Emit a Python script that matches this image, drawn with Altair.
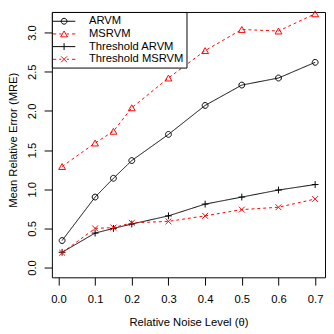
import altair as alt
import pandas as pd

# ---- data ----
noise = [0.01, 0.1, 0.15, 0.2, 0.3, 0.4, 0.5, 0.6, 0.7]
arvm = [0.345, 0.90, 1.14, 1.366, 1.70, 2.07, 2.33, 2.42, 2.62]
msrvm = [1.29, 1.59, 1.74, 2.04, 2.42, 2.77, 3.04, 3.02, 3.24]
thr_arvm = [0.195, 0.44, 0.50, 0.556, 0.66, 0.81, 0.90, 0.99, 1.06]
thr_msrvm = [0.19, 0.50, 0.51, 0.57, 0.59, 0.66, 0.74, 0.77, 0.875]

series_names = ["ARVM", "MSRVM", "Threshold ARVM", "Threshold MSRVM"]
x_ticks = [0.0, 0.1, 0.2, 0.3, 0.4, 0.5, 0.6, 0.7]
y_ticks = [0.0, 0.5, 1.0, 1.5, 2.0, 2.5, 3.0]

# ---- styles ----
series_colors = ["#000000", "#ff0000", "#000000", "#ff0000"]
series_dash = [[1, 0], [3, 3], [1, 0], [3, 3]]
# plot markers (unit = 3.5 px with size 49)
point_shapes = [
    "M-0.857,0A0.857,0.857 0 1,1 0.857,0A0.857,0.857 0 1,1 -0.857,0Z",
    "M0,-0.866L1,0.866L-1,0.866Z",
    "M-1,0L1,0M0,-1L0,1",
    "M-0.857,-0.857L0.857,0.857M-0.857,0.857L0.857,-0.857",
]
# legend symbols: line segment + marker (unit = 6 px with size 144)
legend_shapes = [
    "M-1.917,0L1.917,0M-0.5,0A0.5,0.5 0 1,1 0.5,0A0.5,0.5 0 1,1 -0.5,0Z",
    "M-1.917,0L-1.333,0M-0.833,0L-0.45,0M0.45,0L0.833,0M1.333,0L1.917,0"
    "M0,-0.505L0.583,0.505L-0.583,0.505Z",
    "M-1.917,0L1.917,0M0,-0.583L0,0.583",
    "M-1.917,0L-1.333,0M-0.833,0L-0.5,0M0.5,0L0.833,0M1.333,0L1.917,0"
    "M-0.5,-0.5L0.5,0.5M-0.5,0.5L0.5,-0.5",
]

rows = []
for name, vals in zip(series_names, [arvm, msrvm, thr_arvm, thr_msrvm]):
    for xv, yv in zip(noise, vals):
        rows.append({"theta": xv, "mre": yv, "series": name})
df = pd.DataFrame(rows)

FONT = "Liberation Sans"
FS = 11.5

x_enc = alt.X(
    "theta:Q",
    scale=alt.Scale(domain=[-0.0178, 0.7269], nice=False, zero=False),
    axis=alt.Axis(
        values=x_ticks, format=".1f", title="Relative Noise Level (θ)",
        tickSize=8, labelPadding=9, labelBaseline="top", labelAlign="center",
        titleY=49, titleBaseline="alphabetic",
    ),
)
y_enc = alt.Y(
    "mre:Q",
    scale=alt.Scale(domain=[-0.1245, 3.263], nice=False, zero=False),
    axis=alt.Axis(
        values=y_ticks, format=".1f", title="Mean Relative Error (MRE)",
        tickSize=8, labelPadding=9, labelAngle=270, labelAlign="center",
        labelBaseline="alphabetic",
        titleAngle=270, titleX=-36, titleY=131, titleAlign="center",
        titleBaseline="alphabetic",
    ),
)

color_scale = alt.Scale(domain=series_names, range=series_colors)

base = alt.Chart(df).encode(x=x_enc, y=y_enc)

lines = base.mark_line(strokeWidth=1).encode(
    color=alt.Color("series:N", scale=color_scale, legend=None),
    strokeDash=alt.StrokeDash(
        "series:N", scale=alt.Scale(domain=series_names, range=series_dash), legend=None
    ),
)

points = base.mark_point(filled=False, strokeWidth=1, size=49, opacity=1).encode(
    color=alt.Color("series:N", scale=color_scale, legend=None),
    shape=alt.Shape(
        "series:N", scale=alt.Scale(domain=series_names, range=point_shapes), legend=None
    ),
)

leg = alt.Legend(
    title=None, orient="none", legendX=0, legendY=0, padding=3,
    strokeColor="black", fillColor="white", cornerRadius=0,
    symbolSize=144, symbolStrokeWidth=1, symbolOpacity=1,
    symbolOffset=3, labelOffset=19, rowPadding=1,
    labelFont=FONT, labelFontSize=FS, labelColor="black",
)

legend_layer = base.mark_point(filled=False, strokeWidth=1, size=144, opacity=0).encode(
    color=alt.Color("series:N", scale=color_scale, legend=leg),
    shape=alt.Shape(
        "series:N", scale=alt.Scale(domain=series_names, range=legend_shapes), legend=leg
    ),
)

chart = (
    alt.layer(lines, points, legend_layer)
    .resolve_scale(color="independent", shape="independent", strokeDash="independent")
    .properties(
        width=280, height=272,
        autosize=alt.AutoSizeParams(type="none"),
        padding={"left": 45, "top": 0, "right": 1, "bottom": 53},
        background="white",
    )
    .configure_view(stroke="black", strokeWidth=1)
    .configure_axis(
        grid=False, domain=False, tickColor="black", tickWidth=1,
        labelFont=FONT, labelFontSize=FS, labelColor="black",
        titleFont=FONT, titleFontSize=FS, titleColor="black", titleFontWeight="normal",
    )
)

chart.save("out.html", embed_options={"renderer": "svg", "actions": False})
